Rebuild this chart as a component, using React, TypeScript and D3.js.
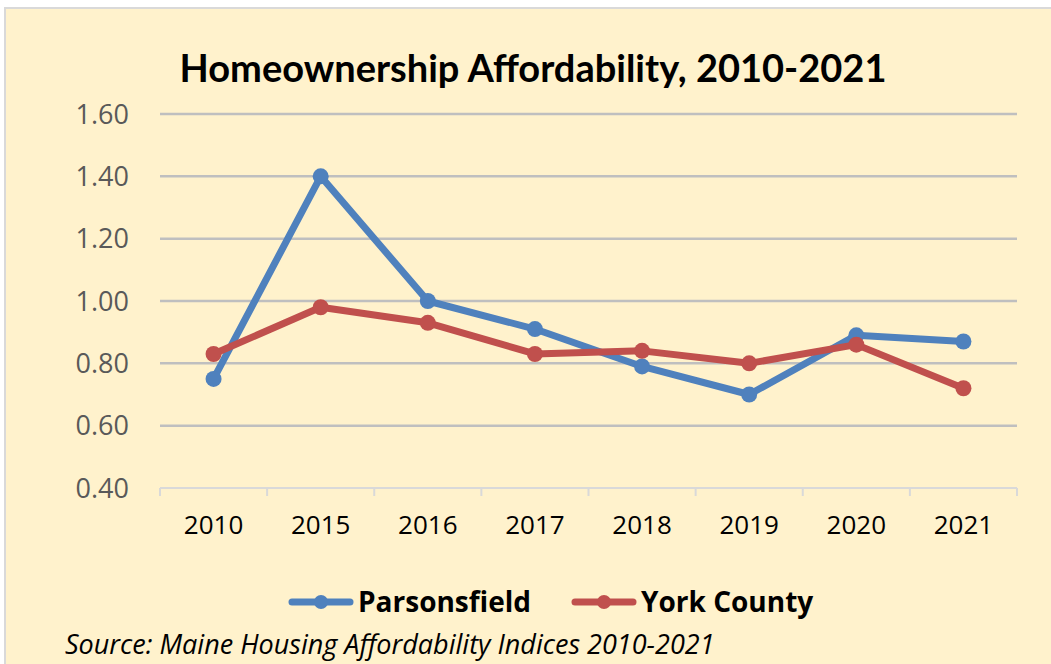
import React from "react";
import * as d3 from "d3";

const years = ["2010", "2015", "2016", "2017", "2018", "2019", "2020", "2021"];
const parsonsfield = [0.75, 1.4, 1.0, 0.91, 0.79, 0.7, 0.89, 0.87];
const yorkCounty = [0.83, 0.98, 0.93, 0.83, 0.84, 0.8, 0.86, 0.72];
const yTicks = [0.4, 0.6, 0.8, 1.0, 1.2, 1.4, 1.6];

const series = [
  { name: "Parsonsfield", values: parsonsfield, color: "#4F81BD" },
  { name: "York County", values: yorkCounty, color: "#C0504D" },
];

const W = 1051;
const H = 664;

export default function App() {
  const x = d3.scaleBand().domain(years).range([160, 1017]);
  const y = d3.scaleLinear().domain([0.4, 1.6]).range([488, 114]);
  const line = d3
    .line<number>()
    .x((_, i) => x(years[i])! + x.bandwidth() / 2)
    .y((d) => y(d));

  const legendX = [290, 573];

  return (
    <svg
      width={W}
      height={H}
      style={{ position: "absolute", left: 0, top: 0 }}
      fontFamily="'Open Sans', sans-serif"
    >
      <rect x={0} y={0} width={W} height={H} fill="#fff" />
      <rect x={5} y={8} width={W + 10} height={H + 10} fill="#FFF2CC" stroke="#D9D9D9" strokeWidth={2} />
      <text x={533} y={82} textAnchor="middle" fontFamily="Lato, sans-serif" fontWeight="bold" fontSize={38} fill="#000">
        Homeownership Affordability, 2010-2021
      </text>

      {yTicks.map((t) => (
        <g key={t}>
          {t > 0.4 && (
            <line x1={160} x2={1017} y1={y(t)} y2={y(t)} stroke="#BFBFBF" strokeWidth={2.5} />
          )}
          <text x={129} y={y(t)} dy="0.36em" textAnchor="end" fontSize={27} fill="#595959">
            {t.toFixed(2)}
          </text>
        </g>
      ))}

      <line x1={160} x2={1017} y1={488} y2={488} stroke="#D9D9D9" strokeWidth={2} />
      {[...years.map((yr) => x(yr)!), 1017].map((tx, i) => (
        <line key={i} x1={tx} x2={tx} y1={488} y2={496} stroke="#D9D9D9" strokeWidth={2} />
      ))}
      {years.map((yr) => (
        <text key={yr} x={x(yr)! + x.bandwidth() / 2} y={534} textAnchor="middle" fontSize={26} fill="#000">
          {yr}
        </text>
      ))}

      {series.map((s) => (
        <g key={s.name}>
          <path d={line(s.values)!} fill="none" stroke={s.color} strokeWidth={7} strokeLinejoin="round" />
          {s.values.map((v, i) => (
            <circle key={i} cx={x(years[i])! + x.bandwidth() / 2} cy={y(v)} r={8} fill={s.color} />
          ))}
        </g>
      ))}

      {series.map((s, i) => (
        <g key={s.name} transform={`translate(${legendX[i]},602)`}>
          <line x1={2} x2={60} y1={0} y2={0} stroke={s.color} strokeWidth={7} strokeLinecap="round" />
          <circle cx={31} cy={0} r={7} fill={s.color} />
          <text x={68} y={0} dy="0.36em" fontSize={28} fontWeight="bold" fill="#000">
            {s.name}
          </text>
        </g>
      ))}

      <text x={65} y={654} fontSize={27} fontStyle="italic" fill="#000">
        Source: Maine Housing Affordability Indices 2010-2021
      </text>
    </svg>
  );
}
